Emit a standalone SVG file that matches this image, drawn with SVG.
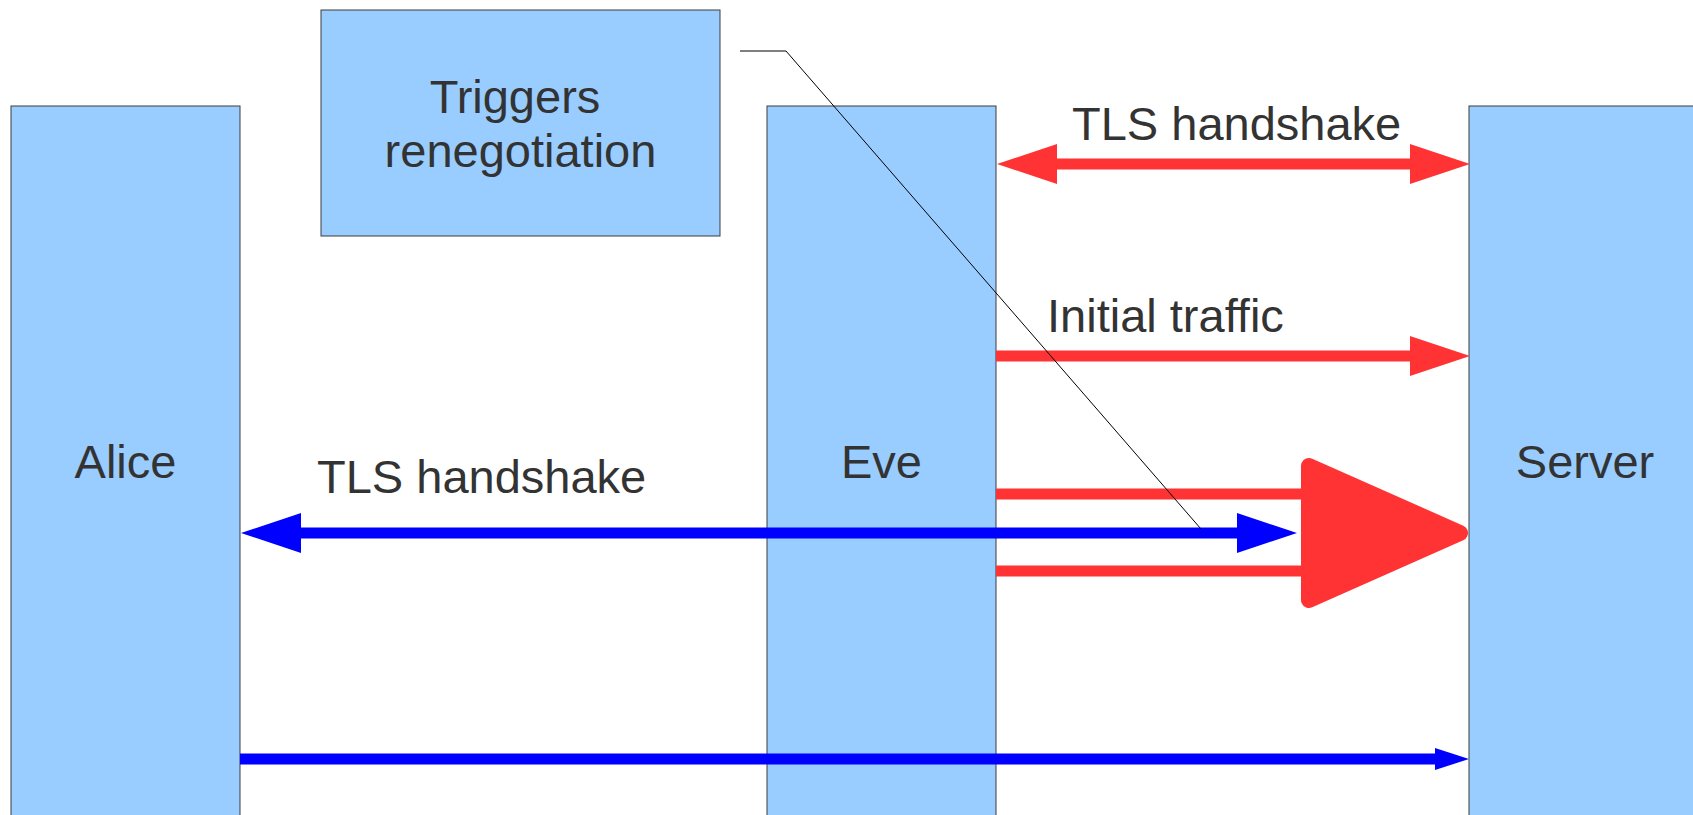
<svg xmlns="http://www.w3.org/2000/svg" width="1693" height="815" viewBox="0 0 1693 815">
  <style>
    .box { fill: #99ccff; stroke: #3c3c3c; stroke-width: 1; }
    .lbl { font-family: "Liberation Sans", Arial, sans-serif; font-size: 47px; fill: #333333; }
    .mid { text-anchor: middle; }
    .red { stroke: #ff3333; stroke-width: 11; fill: none; }
    .blue { stroke: #0000ff; stroke-width: 11; fill: none; }
    .callout { stroke: #000000; stroke-width: 1; fill: none; }
  </style>
  <defs>
    <marker id="headRed" markerUnits="userSpaceOnUse" markerWidth="60" markerHeight="40" refX="0" refY="20" orient="auto-start-reverse" overflow="visible">
      <path d="M0,0 L60,20 L0,40 Z" fill="#ff3333"/>
    </marker>
    <marker id="headBlue" markerUnits="userSpaceOnUse" markerWidth="60" markerHeight="40" refX="0" refY="20" orient="auto-start-reverse" overflow="visible">
      <path d="M0,0 L60,20 L0,40 Z" fill="#0000ff"/>
    </marker>
    <marker id="headBlueSmall" markerUnits="userSpaceOnUse" markerWidth="34" markerHeight="22" refX="0" refY="11" orient="auto" overflow="visible">
      <path d="M0,0 L34,11 L0,22 Z" fill="#0000ff"/>
    </marker>
  </defs>

  <rect width="1693" height="815" fill="#ffffff"/>

  <g id="alice">
    <rect class="box" x="11" y="106" width="229" height="720"/>
    <text class="lbl mid" x="125.5" y="478">Alice</text>
  </g>

  <g id="eve">
    <rect class="box" x="767" y="106" width="229" height="720"/>
    <text class="lbl mid" x="881.5" y="478">Eve</text>
  </g>

  <g id="server">
    <rect class="box" x="1469" y="106" width="240" height="720"/>
    <text class="lbl mid" x="1585" y="478">Server</text>
  </g>

  <g id="triggers">
    <rect class="box" x="321" y="10" width="399" height="226"/>
    <text class="lbl mid" x="515" y="113">Triggers</text>
    <text class="lbl mid" x="520.5" y="167">renegotiation</text>
  </g>

  <g id="connectors">
    <!-- Eve <-> Server handshake -->
    <line class="red" x1="1057" y1="164" x2="1410" y2="164" marker-start="url(#headRed)" marker-end="url(#headRed)"/>
    <text class="lbl" x="1072" y="140">TLS handshake</text>

    <!-- Eve -> Server initial traffic -->
    <line class="red" x1="996" y1="356" x2="1410" y2="356" marker-end="url(#headRed)"/>
    <text class="lbl" x="1047" y="332">Initial traffic</text>

    <!-- Alice <-> Eve handshake tunnelled to Server -->
    <text class="lbl" x="317" y="493">TLS handshake</text>
    <line class="blue" x1="301" y1="533" x2="1237" y2="533" marker-start="url(#headBlue)" marker-end="url(#headBlue)"/>

    <!-- wrapping arrow around the inner handshake -->
    <line class="red" x1="996" y1="494" x2="1305" y2="494"/>
    <line class="red" x1="996" y1="571" x2="1305" y2="571"/>
    <polygon points="1309,466 1460,533 1309,600" fill="#ff3333" stroke="#ff3333" stroke-width="16" stroke-linejoin="round"/>

    <!-- Alice -> Server -->
    <line class="blue" x1="240" y1="759" x2="1435" y2="759" marker-end="url(#headBlueSmall)"/>

    <!-- callout from the note -->
    <polyline class="callout" points="740,51 786,51 1201,529"/>
  </g>
</svg>
